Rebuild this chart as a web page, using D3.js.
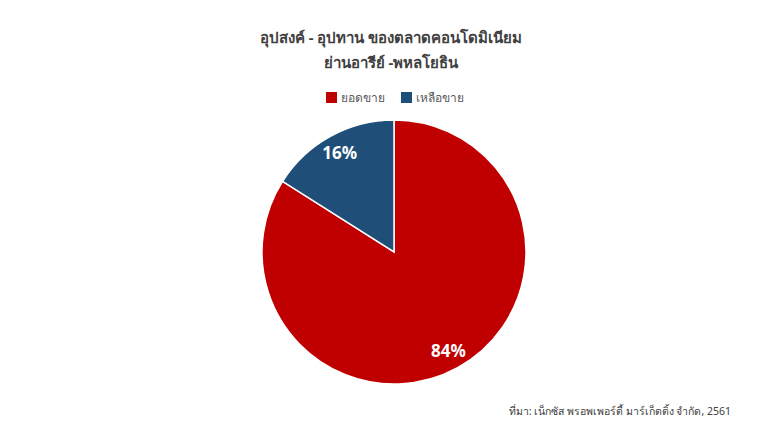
<!DOCTYPE html>
<html><head><meta charset="utf-8">
<script src="https://cdn.jsdelivr.net/npm/d3@7"></script>
<style>
html,body{margin:0;padding:0;background:#fff;}
text{font-family:"Noto Sans","Liberation Sans","DejaVu Sans",sans-serif;}
</style></head>
<body><svg id="c" width="780" height="438"></svg>
<script>
const categories = ["ยอดขาย", "เหลือขาย"];
const values = [84, 16];
const colors = ["#C00000", "#1F4E79"];
const titleLines = ["อุปสงค์ - อุปทาน ของตลาดคอนโดมิเนียม", "ย่านอารีย์ -พหลโยธิน"];
const source = "ที่มา: เน็กซัส พรอพเพอร์ตี้ มาร์เก็ตติ้ง จำกัด, 2561";

const svg = d3.select("#c");
svg.append("rect").attr("width",780).attr("height",438).attr("fill","#fff");

const title = svg.append("g");
titleLines.forEach((t,i)=>{
  title.append("text").attr("x",391).attr("y",43+i*25).attr("text-anchor","middle")
    .attr("font-size",15).attr("font-weight","bold").attr("fill","#404040").text(t);
});

// legend
const leg = svg.append("g");
const legX = [326, 401];
categories.forEach((c,i)=>{
  leg.append("rect").attr("x",legX[i]).attr("y",92).attr("width",11).attr("height",11).attr("fill",colors[i]);
  leg.append("text").attr("x",legX[i]+15).attr("y",102).attr("font-size",12).attr("fill","#595959").text(c);
});

const cx=394, cy=252, r=132;
const pie = d3.pie().sort(null).value(d=>d)(values);
const arc = d3.arc().innerRadius(0).outerRadius(r);
const g = svg.append("g").attr("transform",`translate(${cx},${cy})`);
g.selectAll("path").data(pie).join("path").attr("d",arc)
  .attr("fill",(d,i)=>colors[i]).attr("stroke","#fff").attr("stroke-width",1.5);

const lblArc = d3.arc().innerRadius(r*0.855).outerRadius(r*0.855);
g.selectAll("text.l").data(pie).join("text").attr("class","l")
  .attr("transform",d=>{const [x,y]=lblArc.centroid(d);return `translate(${x},${y})`;})
  .attr("text-anchor","middle").attr("dy","0.35em")
  .attr("font-size",17).attr("font-weight","bold").attr("fill","#fff")
  .text(d=>d.data+"%");

svg.append("text").attr("x",731).attr("y",415).attr("text-anchor","end")
  .attr("font-size",10.5).attr("fill","#404040").text(source);
</script></body></html>
